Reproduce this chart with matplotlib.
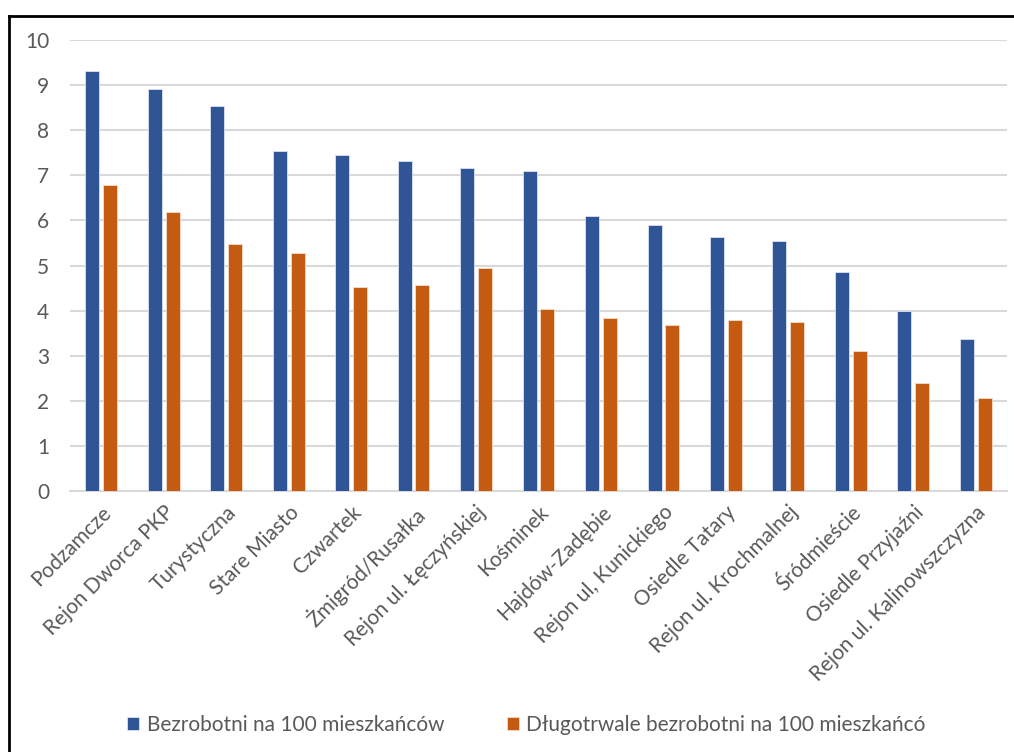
import numpy as np
import matplotlib
matplotlib.use('Agg')
import matplotlib.pyplot as plt
from matplotlib.lines import Line2D

# Dane: dzielnice i wskazniki bezrobocia
dzielnice = ['Podzamcze', 'Rejon Dworca PKP', 'Turystyczna', 'Stare Miasto',
             'Czwartek', 'Żmigród/Rusałka', 'Rejon ul. Łęczyńskiej', 'Kośminek',
             'Hajdów-Zadębie', 'Rejon ul, Kunickiego', 'Osiedle Tatary',
             'Rejon ul. Krochmalnej', 'Śródmieście', 'Osiedle Przyjaźni',
             'Rejon ul. Kalinowszczyzna']
bezrobotni = [9.31, 8.91, 8.54, 7.54, 7.45, 7.32, 7.16, 7.10,
              6.10, 5.90, 5.63, 5.54, 4.86, 3.99, 3.37]
dlugotrwale = [6.78, 6.19, 5.48, 5.28, 4.52, 4.57, 4.94, 4.04,
               3.84, 3.68, 3.79, 3.75, 3.10, 2.39, 2.06]
etykiety = ['Bezrobotni na 100 mieszkańców',
            'Długotrwale bezrobotni na 100 mieszkańcó']
yticks = [0, 1, 2, 3, 4, 5, 6, 7, 8, 9, 10]

plt.rcParams['font.family'] = ['Lato', 'DejaVu Sans']

NIEBIESKI = '#2F5597'
POMARANCZ = '#C55A11'
SZARY = '#595959'
ROZMIAR = 15

fig = plt.figure(figsize=(10.14, 7.52), dpi=100)
ax = fig.add_axes([70 / 1014, 1 - 491 / 752, 937 / 1014, 451 / 752])

x = np.arange(len(dzielnice))
w = 0.225
odstep = 0.03
ax.bar(x - w / 2 - odstep, bezrobotni, w, color=NIEBIESKI,
       edgecolor='#DCE3F0', linewidth=0.6, label=etykiety[0], zorder=3)
ax.bar(x + w / 2 + odstep, dlugotrwale, w, color=POMARANCZ,
       edgecolor='#F4DCCB', linewidth=0.6, label=etykiety[1], zorder=3)

ax.set_xlim(-0.5, len(dzielnice) - 0.5)
ax.set_ylim(0, 10)
ax.set_yticks(yticks)
ax.yaxis.grid(True, color='#D9D9D9', linewidth=1.5, zorder=0)
ax.set_axisbelow(True)
for s in ['top', 'right', 'left']:
    ax.spines[s].set_visible(False)
ax.spines['bottom'].set_color('#D9D9D9')
ax.spines['bottom'].set_linewidth(1.5)

ax.tick_params(axis='both', length=0, labelsize=ROZMIAR, labelcolor=SZARY)
ax.tick_params(axis='y', pad=15)
ax.set_xticks(x)
ax.set_xticklabels(dzielnice, rotation=45, ha='right', va='top',
                   rotation_mode='anchor')
ax.tick_params(axis='x', pad=8)

leg = fig.legend(loc='center', bbox_to_anchor=(0.519, 1 - 725 / 752), ncol=2,
                 frameon=False, fontsize=ROZMIAR, handlelength=0.6,
                 handleheight=0.6, handletextpad=0.35, columnspacing=3.0)
for t in leg.get_texts():
    t.set_color(SZARY)

# ramka wykresu (lewa i gorna krawedz)
fig.add_artist(Line2D([8.5 / 1014, 8.5 / 1014], [0, 1 - 15.5 / 752],
                      transform=fig.transFigure, color='black', linewidth=2))
fig.add_artist(Line2D([8.5 / 1014, 1], [1 - 15.5 / 752, 1 - 15.5 / 752],
                      transform=fig.transFigure, color='black', linewidth=2))

fig.savefig('out.png', dpi=100)
